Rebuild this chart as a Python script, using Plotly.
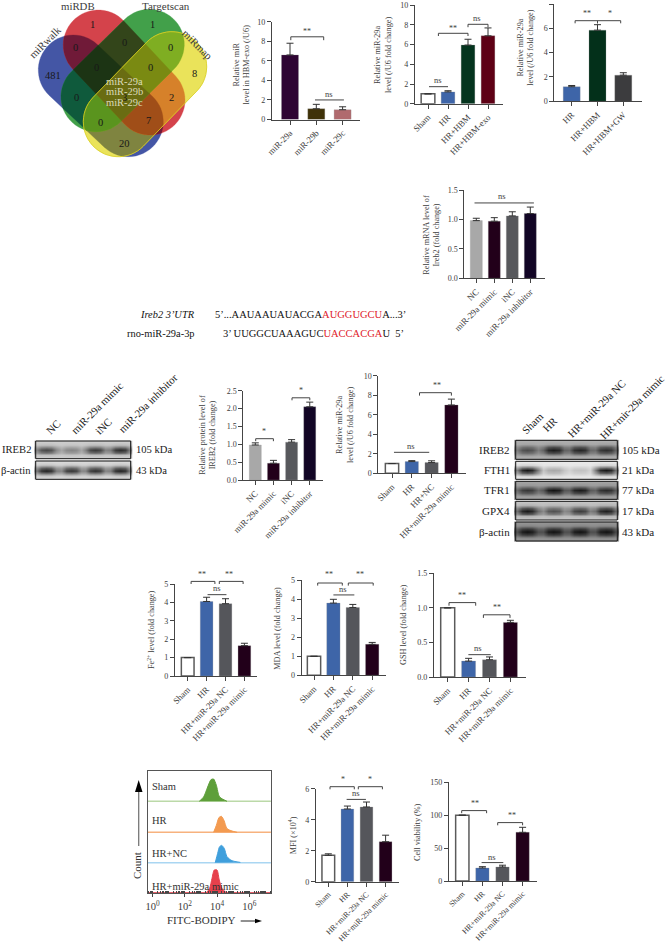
from itertools import combinations
import numpy as np
import plotly.graph_objects as go

W, H = 665, 944
FONT = "Liberation Serif"
INK = "#3c3c3c"
AX = "#454545"
BLUE, NCG, DARK = "#3E65A8", "#55565B", "#22001A"
WHITE = "#FFFFFF"

# ---------- data ----------
hbm_cats = ["miR-29a", "miR-29b", "miR-29c"]
hbm_vals = [6.6, 1.1, 1.0]
hbm_tops = [7.8, 1.55, 1.3]
hbm_cols = ["#2E0433", "#3F3208", "#B06A6E"]

exo_cats = ["Sham", "HR", "HR+HBM", "HR+HBM-exo"]
exo_vals = [1.0, 1.2, 5.96, 6.9]
exo_tops = [1.0, 1.32, 6.55, 7.7]
exo_cols = [WHITE, BLUE, "#04341E", "#5E0015"]

gw_cats = ["HR", "HR+HBM", "HR+HBM+GW"]
gw_vals = [1.2, 5.85, 2.15]
gw_tops = [1.3, 6.3, 2.35]
gw_cols = [BLUE, "#03301A", "#3C3C3E"]

mrna_cats = ["NC", "miR-29a mimic", "iNC", "miR-29a inhibitor"]
mrna_vals = [0.98, 0.97, 1.06, 1.1]
mrna_tops = [1.02, 1.03, 1.13, 1.21]
mrna_cols = ["#A8A8A8", DARK, "#57585C", "#120525"]

prot_cats = mrna_cats
prot_vals = [0.98, 0.47, 1.06, 2.05]
prot_tops = [1.04, 0.55, 1.13, 2.18]
prot_cols = mrna_cols

mim_cats = ["Sham", "HR", "HR+NC", "HR+miR-29a mimic"]
mim_vals = [1.0, 1.2, 1.1, 7.0]
mim_tops = [1.0, 1.3, 1.28, 7.6]
mim_cols = [WHITE, BLUE, NCG, DARK]

rescue_cats = ["Sham", "HR", "HR+miR-29a NC", "HR+miR-29a mimic"]
rescue_cols = [WHITE, BLUE, NCG, DARK]
fe_vals = [1.0, 4.05, 3.93, 1.65]
fe_tops = [1.0, 4.28, 4.2, 1.78]
mda_vals = [1.0, 3.8, 3.57, 1.63]
mda_tops = [1.0, 4.0, 3.73, 1.73]
gsh_vals = [1.0, 0.23, 0.25, 0.79]
gsh_tops = [1.0, 0.27, 0.29, 0.82]
mfi_vals = [1.7, 4.69, 4.82, 2.58]
mfi_tops = [1.8, 4.88, 5.14, 3.0]
via_vals = [100, 19.8, 21.3, 74]
via_tops = [100, 21.8, 24, 81.6]

flow_names = ["Sham", "HR", "HR+NC", "HR+miR-29a mimic"]
flow_base = [92, 61, 30.6, 0.6]
flow_line = ["#5E9F3A", "#F39A50", "#3F9FDC", "#E6404C"]
flow_rule = ["#BBD9A8", "#F7B27E", "#A9D6F2", "#E6606A"]
flow_lx = [[2.90, 3.17, 3.42, 3.63, 3.79, 3.96, 4.16, 4.62],
           [3.79, 3.96, 4.12, 4.27, 4.43, 4.62, 4.93, 5.25],
           [3.89, 4.04, 4.16, 4.29, 4.45, 4.62, 4.93, 5.45],
           [3.34, 3.54, 3.69, 3.83, 4.00, 4.14, 4.31, 4.58]]
flow_h = [[0, 4.3, 14.3, 21.7, 22.3, 16, 4.3, 0],
          [0, 7, 14.7, 16, 12, 3.7, 1.3, 0],
          [0, 9.3, 16, 17.3, 14.3, 6, 2, 0.3],
          [0, 4.3, 14.3, 22.7, 22.7, 12.7, 4.3, 0]]

venn_nums = [("1", 92, 24), ("1", 152, 24), ("481", 53, 75), ("8", 194, 73), ("0", 75, 47), ("0", 124, 42),
             ("0", 170, 47), ("0", 96, 67), ("0", 150, 67), ("0", 76.5, 97), ("2", 171, 97), ("3", 124, 97),
             ("0", 100.5, 122), ("7", 148, 120), ("20", 124.5, 143)]
venn_mirs = [("miR-29a", 81), ("miR-29b", 91.5), ("miR-29c", 102)]
# capsule axes of the four sets: B lue, R ed, G reen, Y ellow
venn_axes = {"B": ((73.3, 70), (128.3, 121.7)), "R": ((98.3, 45), (150, 100)),
             "G": ((149.3, 44.3), (96, 96.7)), "Y": ((171.7, 66.7), (118.3, 121.7))}
VENN_R = 35
venn_cols = {"B": "#4456A5", "R": "#D4434B", "G": "#42A04A", "Y": "#EAE35A",
             "BR": "#701A38", "RG": "#33451A", "BG": "#0F5A3C", "BY": "#7F8440", "RY": "#D6812A", "GY": "#7FAE22",
             "BRG": "#1C3414", "BRY": "#A04E18", "BGY": "#5A941E", "RGY": "#7A8A12", "BRGY": "#6A6C12"}

left_blot_rows = [("IREB2", "105 kDa", 441, 458.7, 0.18, [0.72, 0.42, 0.78, 0.85]),
                  ("β-actin", "43 kDa", 461, 479.3, 0.12, [0.9, 0.82, 0.84, 0.9])]
right_blot_rows = [("IREB2", "105 kDa", 440.3, 459.3, 0.32, [0.62, 0.9, 0.85, 0.8]),
                   ("FTH1", "21 kDa", 461.3, 479.3, 0.05, [0.95, 0.32, 0.2, 0.95]),
                   ("TFR1", "77 kDa", 481.3, 499.3, 0.38, [0.72, 0.95, 0.9, 0.8]),
                   ("GPX4", "17 kDa", 501.3, 520, 0.22, [0.92, 0.65, 0.75, 0.9]),
                   ("β-actin", "43 kDa", 522, 541, 0.45, [0.95, 0.95, 0.95, 0.95])]
lane_profile = [0.55, 0.92, 1.0, 0.92, 0.55]
band_profile = [0.0, 0.12, 0.7, 1.0, 0.7, 0.12, 0.0]

# ---------- scaffolding ----------
fig = go.Figure()
shapes, annos = [], []
layout = {}
n_ax = [1]

layout["xaxis"] = dict(domain=[0, 1], range=[0, W], visible=False, fixedrange=True)
layout["yaxis"] = dict(domain=[0, 1], range=[H, 0], visible=False, fixedrange=True)


def text(x, y, s, size=8, color=INK, angle=0, xa="center", ya="middle"):
    annos.append(dict(x=x, y=y, text=s, xref="x", yref="y", showarrow=False, xanchor=xa, yanchor=ya,
                      textangle=angle, font=dict(family=FONT, size=size, color=color), borderpad=0, borderwidth=0,
                      align="center"))


def capsule(a, b, r):
    a, b = np.array(a, float), np.array(b, float)
    ang = np.arctan2(*(b - a)[::-1])
    t1 = np.linspace(ang + np.pi / 2, ang + 3 * np.pi / 2, 30)
    t2 = np.linspace(ang - np.pi / 2, ang + np.pi / 2, 30)
    return [a + r * np.array([np.cos(t), np.sin(t)]) for t in t1] + [b + r * np.array([np.cos(t), np.sin(t)]) for t in t2]


def clip_convex(subject, clipper):
    """Sutherland-Hodgman: both polygons convex."""
    area = sum(clipper[i][0] * clipper[(i + 1) % len(clipper)][1] - clipper[(i + 1) % len(clipper)][0] * clipper[i][1]
               for i in range(len(clipper)))
    sign = 1 if area > 0 else -1
    out = subject
    for i in range(len(clipper)):
        p, q = clipper[i], clipper[(i + 1) % len(clipper)]
        side = lambda v: sign * ((q[0] - p[0]) * (v[1] - p[1]) - (q[1] - p[1]) * (v[0] - p[0]))
        cur, out = out, []
        for j in range(len(cur)):
            s, e = cur[j], cur[(j + 1) % len(cur)]
            ss, se = side(s), side(e)
            if ss >= 0:
                out.append(s)
            if ss * se < 0:
                out.append(s + (e - s) * ss / (ss - se))
        if not out:
            return []
    return out


def poly_path(pts):
    return "M " + " L ".join(f"{p[0]:.1f},{p[1]:.1f}" for p in pts) + " Z"


def panel(cats, vals, tops, cols, ax0, ax1, c0, spacing, bw, y0, ytop, ymax, yticks, title, tx, ty,
          brackets=(), ticktext=None, tick=8.8, title_size=8.2):
    n_ax[0] += 1
    i = n_ax[0]
    xn, yn = f"x{i}", f"y{i}"
    layout[f"xaxis{i}"] = dict(domain=[ax0 / W, ax1 / W], anchor=yn, range=[(ax0 - c0) / spacing, (ax1 - c0) / spacing],
                               tickmode="array", tickvals=list(range(len(cats))), ticktext=cats, tickangle=-45,
                               ticks="outside", ticklen=4, tickwidth=1.1, tickcolor=AX, showline=True,
                               linecolor=AX, linewidth=1.1, showgrid=False, zeroline=False, fixedrange=True,
                               automargin=False, tickfont=dict(family=FONT, size=tick, color=INK))
    layout[f"yaxis{i}"] = dict(domain=[1 - y0 / H, 1 - ytop / H], anchor=xn, range=[0, ymax], tickmode="array",
                               tickvals=yticks, ticktext=ticktext or [str(v) for v in yticks], ticks="outside",
                               ticklen=4, tickwidth=1.1, tickcolor=AX, showline=True, linecolor=AX, linewidth=1.1,
                               showgrid=False, zeroline=False, fixedrange=True,
                               automargin=False, tickfont=dict(family=FONT, size=8, color=INK))
    fig.add_trace(go.Bar(x=list(range(len(cats))), y=vals, width=bw / spacing, xaxis=xn, yaxis=yn,
                         marker=dict(color=cols, line=dict(color=["#5a5a5a" if c == WHITE else "rgba(150,150,150,0.35)" for c in cols],
                                                           width=[1.5 if c == WHITE else 0.8 for c in cols])),
                         error_y=dict(type="data", symmetric=False, array=[t - v for t, v in zip(tops, vals)],
                                      arrayminus=[0] * len(vals), thickness=1, width=3.5, color="#333"),
                         hoverinfo="skip", showlegend=False))
    text(tx, ty, title, size=title_size, angle=-90)
    px = lambda v: c0 + spacing * v
    py = lambda v: y0 - (y0 - ytop) * v / ymax
    for x1, x2, y, drop, label, lx, ly in brackets:
        line = dict(color="#444", width=1)
        if drop:
            shapes.append(dict(type="path", xref="x", yref="y", line=line,
                               path=f"M {px(x1):.1f},{py(y-drop):.1f} L {px(x1):.1f},{py(y):.1f} L {px(x2):.1f},{py(y):.1f} L {px(x2):.1f},{py(y-drop):.1f}"))
        else:
            shapes.append(dict(type="line", xref="x", yref="y", x0=px(x1), x1=px(x2), y0=py(y), y1=py(y), line=line))
        text(px(lx), py(ly), label, size=8 if label != "ns" else 8.5)


# ---------- venn ----------
caps = {k: capsule(*v, VENN_R) for k, v in venn_axes.items()}
for size in range(1, 5):
    for combo in combinations("BRGY", size):
        poly = caps[combo[0]]
        for other in combo[1:]:
            poly = clip_convex(poly, caps[other])
        if poly:
            col = venn_cols["".join(combo)]
            shapes.append(dict(type="path", path=poly_path(poly), fillcolor=col, line=dict(color=col, width=0.3),
                               layer="below", xref="x", yref="y"))
shapes.append(dict(type="path", path=poly_path(caps["Y"]), line=dict(color="#D8CE20", width=0.8), layer="below",
                   xref="x", yref="y"))
for s, x, y in venn_nums:
    text(x, y, s, size=10.5, color="#181818")
for s, y in venn_mirs:
    text(124.5, y, s, size=10.5, color="#DADAB8")
text(78, 6, "miRDB", size=10.8)
text(165.5, 6, "Targetscan", size=11)
text(45, 42, "miRwalk", size=10.8, angle=-45)
text(197, 44, "miRmap", size=10.8, angle=45)

# ---------- bar panels ----------
panel(hbm_cats, hbm_vals, hbm_tops, hbm_cols, 272, 360, 290, 26.3, 17, 119.5, 21.7, 10, [0, 2, 4, 6, 8, 10],
      "Relative miR<br>level in HBM-exo (/U6)", 241.5, 65,
      [(0.03, 1.28, 8.46, 0.35, "**", 0.65, 8.98), (0.95, 2.05, 2.0, 0, "ns", 1.5, 2.56)])
panel(exo_cats, exo_vals, exo_tops, exo_cols, 415, 502.7, 428, 20, 13.7, 103.7, 5.3, 10, [0, 2, 4, 6, 8, 10],
      "Relative miR-29a<br>level (/U6 fold change)", 383, 55,
      [(0.05, 1.0, 1.73, 0, "ns", 0.5, 2.4), (0.52, 2.0, 7.15, 0.27, "**", 1.25, 7.66),
       (2.0, 3.0, 8.07, 0.3, "ns", 2.45, 8.7)])
panel(gw_cats, gw_vals, gw_tops, gw_cols, 554.3, 641.7, 571.7, 25.8, 17, 101.3, 4, 8, [0, 2, 4, 6, 8],
      "Relative miR-29a<br>level (/U6 fold change)", 525.7, 48,
      [(0.13, 1.0, 6.63, 0.22, "**", 0.58, 7.18), (1.0, 1.9, 6.63, 0.22, "*", 1.48, 7.18)])
panel(mrna_cats, mrna_vals, mrna_tops, mrna_cols, 464.3, 545, 476.3, 18, 12, 278.3, 190, 1.5, [0, 0.5, 1, 1.5],
      "Relative mRNA level of<br>Ireb2 (fold change)", 431.7, 235,
      [(-0.1, 3.2, 1.28, 0, "ns", 1.45, 1.4)], ticktext=["0.0", "0.5", "1.0", "1.5"])
panel(prot_cats, prot_vals, prot_tops, prot_cols, 243.3, 322.7, 255.3, 18.15, 12, 480, 390.7, 2.5,
      [0, 0.5, 1, 1.5, 2, 2.5], "Relative protein level of<br>IREB2 (fold change)", 207.7, 435,
      [(0.02, 1.0, 1.157, 0.07, "*", 0.5, 1.37), (2.02, 3.0, 2.3, 0.07, "*", 2.5, 2.5)],
      ticktext=["0.0", "0.5", "1.0", "1.5", "2.0", "2.5"])
panel(mim_cats, mim_vals, mim_tops, mim_cols, 378.3, 465.7, 392, 19.8, 13.3, 473.3, 375.7, 10, [0, 2, 4, 6, 8, 10],
      "Relative miR-29a<br>level (/U6 fold change)", 345, 425,
      [(0.1, 1.88, 2.15, 0, "ns", 0.97, 2.83), (1.39, 3.0, 8.26, 0.3, "**", 2.27, 9.04)])
panel(rescue_cats, fe_vals, fe_tops, rescue_cols, 175, 257.3, 187.7, 18.9, 12.7, 676, 584, 5, [0, 1, 2, 3, 4, 5],
      "Fe<sup>2+</sup> level (fold change)", 151, 630,
      [(0.18, 1.44, 5.14, 0.14, "**", 0.75, 5.49), (1.05, 2.05, 4.42, 0, "ns", 1.53, 4.76),
       (1.67, 2.93, 5.14, 0.14, "**", 2.2, 5.49)])
panel(rescue_cats, mda_vals, mda_tops, rescue_cols, 301.7, 386, 314, 19.4, 13.3, 675.3, 580.3, 5, [0, 1, 2, 3, 4, 5],
      "MDA level (fold change)", 276.7, 628,
      [(0.19, 1.46, 4.86, 0.14, "**", 0.77, 5.28), (1.0, 2.08, 4.23, 0, "ns", 1.5, 4.54),
       (1.77, 3.05, 4.86, 0.14, "**", 2.37, 5.28)])
panel(rescue_cats, gsh_vals, gsh_tops, rescue_cols, 434, 526, 447.7, 20.9, 14, 677, 573.3, 1.5, [0, 0.5, 1, 1.5],
      "GSH level (fold change)", 403, 625,
      [(0.06, 1.34, 1.076, 0.045, "**", 0.67, 1.18), (0.99, 2.06, 0.323, 0, "ns", 1.47, 0.425),
       (1.71, 2.98, 0.9, 0.045, "**", 2.34, 1.0)], ticktext=["0.0", "0.5", "1.0", "1.5"])
panel(rescue_cats, mfi_vals, mfi_tops, rescue_cols, 316, 399.3, 328.3, 19.1, 12.7, 881.7, 788.7, 6, [0, 2, 4, 6],
      "MFI (×10<sup>4</sup>)", 292.3, 835,
      [(0.09, 1.36, 6.13, 0.17, "*", 0.75, 6.6), (0.96, 1.97, 5.31, 0, "ns", 1.45, 5.7),
       (1.57, 2.83, 6.13, 0.17, "*", 2.2, 6.6)], tick=8)
panel(rescue_cats, via_vals, via_tops, rescue_cols, 449, 536.7, 462.3, 20.1, 13.3, 881, 782.3, 150, [0, 50, 100, 150],
      "Cell viability (%)", 417.3, 831.7,
      [(-0.03, 1.21, 107, 4, "**", 0.63, 118), (0.96, 2.04, 28, 0, "ns", 1.49, 37),
       (1.76, 3.0, 88.7, 4, "**", 2.45, 100)], tick=8)

# ---------- sequence ----------
text(215, 314, "5’...AAUAAUAUACGA<span style='color:#E0202A'>AUGGUGCU</span>A...3’", size=10.5, color="#111", xa="left")
text(222.7, 333, "3’ UUGGCUAAAGUC<span style='color:#E0202A'>UACCACGA</span>U&nbsp;&nbsp;5’", size=10.5, color="#111", xa="left")
text(195, 314, "<i>Ireb2 3’UTR</i>", size=10.4, color="#111", xa="right")
text(195, 333, "rno-miR-29a-3p", size=10.4, color="#111", xa="right")


# ---------- blots ----------
def blot(x0, x1, rows, label_x, kda_x, lab_size=10.6):
    for name, kda, y0, y1, bg, lanes in rows:
        z = [[bg + (1 - bg) * i * h * v for i in lanes for h in lane_profile] for v in band_profile]
        xs = np.linspace(x0 + 1, x1 - 1, len(lanes) * len(lane_profile))
        ys = np.linspace(y0 + 1, y1 - 1, len(band_profile))
        fig.add_trace(go.Heatmap(z=z, x=xs, y=ys, xaxis="x", yaxis="y", zmin=0, zmax=1, zsmooth="best",
                                 colorscale=[[0, "#F4F4F4"], [0.5, "#8A8A8A"], [1, "#0A0A0A"]], showscale=False,
                                 hoverinfo="skip"))
        shapes.append(dict(type="rect", x0=x0, x1=x1, y0=y0, y1=y1, xref="x", yref="y",
                           line=dict(color="#111", width=1)))
        text(label_x, (y0 + y1) / 2, name, size=lab_size, xa="right", color="#222")
        text(kda_x, (y0 + y1) / 2, kda, size=lab_size, xa="left", color="#222")


blot(35.7, 130.7, left_blot_rows, 31, 135.7)
blot(515.7, 617.3, right_blot_rows, 510, 622, lab_size=11)
for s, x, y in [("NC", 53.3, 427.3), ("miR-29a mimic", 96.7, 408), ("iNC", 103.3, 425.7), ("miR-29a inhibitor", 148, 403),
                ("Sham", 532.7, 423), ("HR", 550, 424), ("HR+miR-29a NC", 596.7, 408), ("HR+mir-29a mimic", 631.7, 406.7)]:
    text(x, y, s, size=10.8, angle=-45, color="#222")

# ---------- flow ----------
n_ax[0] += 1
k = n_ax[0]
layout[f"xaxis{k}"] = dict(domain=[147.7 / W, 271 / W], anchor=f"y{k}", type="log", range=[-0.3, 7.35], tickmode="array",
                           tickvals=[1, 100, 1e4, 1e6],
                           ticktext=["10<sup>0</sup>", "10<sup>2</sup>", "10<sup>4</sup>", "10<sup>6</sup>"],
                           ticks="outside", ticklen=3, tickwidth=1, tickcolor=AX, showline=True, mirror=True,
                           linecolor="#555", linewidth=1.2, showgrid=False, zeroline=False, fixedrange=True,
                           minor=dict(ticks="inside", ticklen=2, tickcolor=AX, dtick="D1", showgrid=False),
                           tickfont=dict(family=FONT, size=10.5, color=INK))
layout[f"yaxis{k}"] = dict(domain=[1 - 893.3 / H, 1 - 770.7 / H], anchor=f"x{k}", range=[0, 122.6], showticklabels=False,
                           ticks="", showline=True, mirror=True, linecolor="#555", linewidth=1.2, showgrid=False,
                           zeroline=False, fixedrange=True)
for name, base, lc, rc, lx, h in zip(flow_names, flow_base, flow_line, flow_rule, flow_lx, flow_h):
    fig.add_trace(go.Scatter(x=[0.5, 2.2e7], y=[base, base], mode="lines", line=dict(color=rc, width=1.4),
                             xaxis=f"x{k}", yaxis=f"y{k}", hoverinfo="skip", showlegend=False))
    fig.add_trace(go.Scatter(x=[10 ** v for v in lx], y=[base + v for v in h], mode="lines", fill="toself", fillcolor=lc,
                             line=dict(color=lc, width=1, shape="spline", smoothing=0.7), xaxis=f"x{k}", yaxis=f"y{k}",
                             hoverinfo="skip", showlegend=False))
for name, y in zip(flow_names, [786, 820, 853, 886]):
    text(151.7, y, name, size=10.5, xa="left", color="#333")
shapes.append(dict(type="line", x0=138.7, x1=138.7, y0=846, y1=790, xref="x", yref="y", line=dict(color="#777", width=1.3)))
shapes.append(dict(type="path", path="M 138.7,780 L 135,792 L 142.5,792 Z", fillcolor="#000", line=dict(width=0),
                   xref="x", yref="y"))
text(137, 866, "Count", size=11, angle=-90, color="#333")
text(201.7, 920, "FITC-BODIPY", size=11, color="#333")
shapes.append(dict(type="line", x0=240.7, x1=257, y0=921, y1=921, xref="x", yref="y", line=dict(color="#222", width=1)))
shapes.append(dict(type="path", path="M 262,921 L 255,918.7 L 255,923.3 Z", fillcolor="#000", line=dict(width=0),
                   xref="x", yref="y"))

fig.update_layout(width=W, height=H, margin=dict(l=0, r=0, t=0, b=0, autoexpand=False), paper_bgcolor="white",
                  plot_bgcolor="rgba(0,0,0,0)", showlegend=False, barmode="overlay", shapes=shapes, annotations=annos,
                  **layout)

fig.write_html("out.html", config={"displayModeBar": False}, post_script="document.body.style.margin='0';")
